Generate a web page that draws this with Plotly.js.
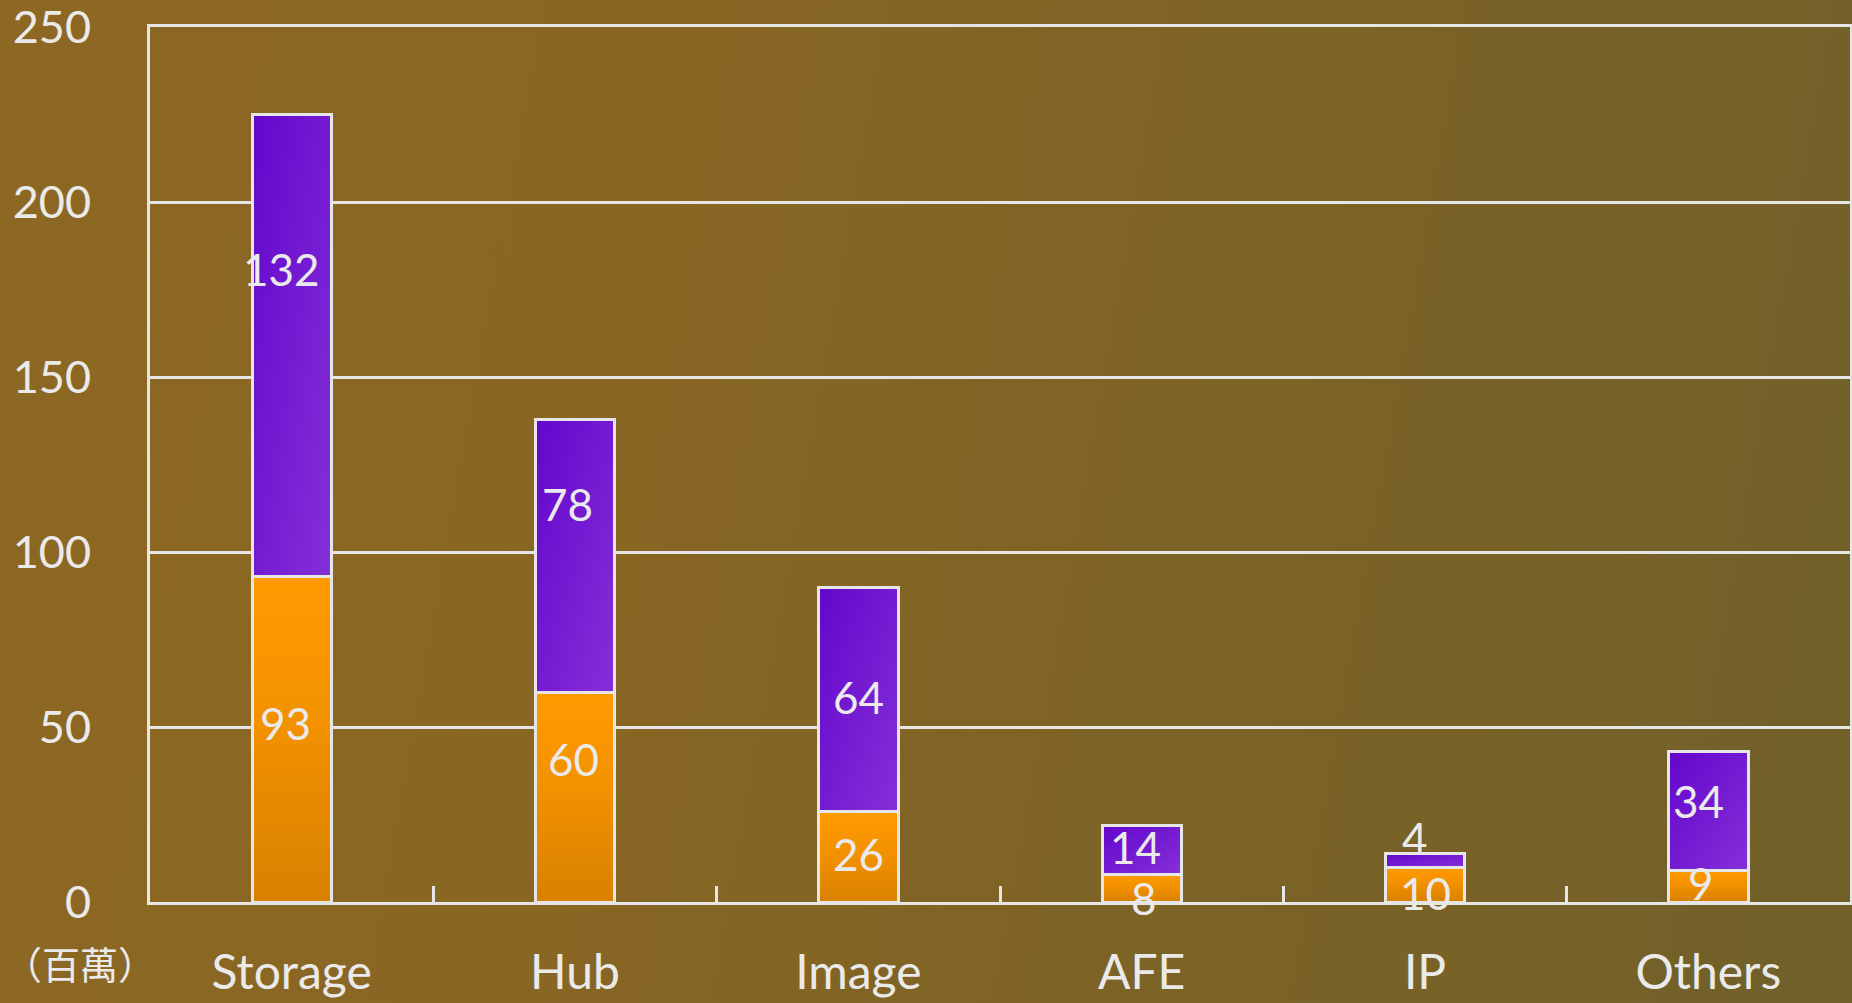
<!DOCTYPE html>
<html>
<head>
<meta charset="utf-8">
<script src="https://cdn.plot.ly/plotly-3.0.1.min.js"></script>
<style>
  html, body { margin: 0; padding: 0; }
  #chart {
    width: 1852px; height: 1003px;
    background: linear-gradient(100deg, #8D6823 0%, #886624 35%, #7C6326 65%, #71602A 100%);
  }
</style>
</head>
<body>
<div id="chart"></div>
<script>
// ---- data ----
const categories = ['Storage', 'Hub', 'Image', 'AFE', 'IP', 'Others'];
const lowerValues = [93, 60, 26, 8, 10, 9];     // orange segment
const upperValues = [132, 78, 64, 14, 4, 34];   // purple segment
const yTickValues = [0, 50, 100, 150, 200, 250];
const unitLabel = '（百萬）';

// ---- label styling (fraction of segment height where the label sits, and x nudges) ----
const lowerLabelFrac = [0.55, 0.68, 0.53, 0.14, 0.26, 0.6];
const upperLabelFrac = [0.666, 0.69, 0.51, 0.55, 2.1, 0.585];
const lowerLabelShift = [-6, -2, 0, 2, 0, -7];
const upperLabelShift = [-10, -8, 0, -6, -10, -10];

const textColor = '#EAEAEA';
const lineColor = '#E6E6E6';

const traces = [
  {
    type: 'bar', x: categories, y: lowerValues, name: 'lower',
    marker: { color: '#F29000', line: { color: lineColor, width: 3 } },
    hoverinfo: 'skip'
  },
  {
    type: 'bar', x: categories, y: upperValues, name: 'upper',
    marker: { color: '#7420D0', line: { color: lineColor, width: 3 } },
    hoverinfo: 'skip'
  }
];

const annotations = [];
categories.forEach((c, i) => {
  annotations.push({
    x: c, y: lowerValues[i] * lowerLabelFrac[i], xref: 'x', yref: 'y',
    text: String(lowerValues[i]), showarrow: false, xshift: lowerLabelShift[i],
    yanchor: 'middle', font: { family: 'Lato, sans-serif', size: 44, color: textColor }
  });
  annotations.push({
    x: c, y: lowerValues[i] + upperValues[i] * upperLabelFrac[i], xref: 'x', yref: 'y',
    text: String(upperValues[i]), showarrow: false, xshift: upperLabelShift[i],
    yanchor: 'middle', font: { family: 'Lato, sans-serif', size: 44, color: textColor }
  });
});
annotations.push({
  xref: 'paper', yref: 'paper', x: -0.087, y: -0.069, xanchor: 'left', yanchor: 'middle',
  text: unitLabel, showarrow: false,
  font: { family: '"Noto Sans CJK TC", sans-serif', size: 38, color: textColor }
});

const layout = {
  width: 1852, height: 1003,
  margin: { l: 150, r: 2, t: 27, b: 101 },
  paper_bgcolor: 'rgba(0,0,0,0)',
  plot_bgcolor: 'rgba(0,0,0,0)',
  barmode: 'stack',
  bargap: 0.72,
  showlegend: false,
  hovermode: false,
  font: { family: 'Lato, sans-serif', color: textColor },
  xaxis: {
    type: 'category',
    showline: true, linecolor: lineColor, linewidth: 3, mirror: true,
    ticks: 'inside', tickson: 'boundaries', ticklen: 16, tickwidth: 3, tickcolor: lineColor,
    showgrid: false,
    tickfont: { family: 'Lato, sans-serif', size: 48, color: textColor },
    ticklabelstandoff: 26,
    ticklabeloverflow: 'allow',
    fixedrange: true
  },
  yaxis: {
    range: [0, 250],
    tickvals: yTickValues,
    showline: true, linecolor: lineColor, linewidth: 3, mirror: true,
    showgrid: true, gridcolor: lineColor, gridwidth: 3,
    zeroline: false,
    ticks: '',
    tickfont: { family: 'Lato, sans-serif', size: 45, color: textColor },
    ticklabelstandoff: 47,
    ticklabeloverflow: 'allow',
    fixedrange: true
  },
  annotations: annotations
};

Plotly.newPlot('chart', traces, layout, { displayModeBar: false, staticPlot: true }).then(gd => {
  const svgNS = 'http://www.w3.org/2000/svg';
  const svg = gd.querySelector('.main-svg');
  let defs = svg.querySelector('defs');
  if (!defs) { defs = document.createElementNS(svgNS, 'defs'); svg.insertBefore(defs, svg.firstChild); }
  function grad(id, x1, y1, x2, y2, stops) {
    const g = document.createElementNS(svgNS, 'linearGradient');
    g.setAttribute('id', id);
    g.setAttribute('x1', x1); g.setAttribute('y1', y1);
    g.setAttribute('x2', x2); g.setAttribute('y2', y2);
    stops.forEach(([o, c]) => {
      const s = document.createElementNS(svgNS, 'stop');
      s.setAttribute('offset', o); s.setAttribute('stop-color', c);
      g.appendChild(s);
    });
    defs.appendChild(g);
  }
  grad('gOrange', '0', '0', '0', '1', [['0', '#FF9B00'], ['0.45', '#F39100'], ['1', '#D88100']]);
  grad('gPurple', '0', '0', '1', '1', [['0', '#6406CC'], ['1', '#8430D8']]);
  const traceGroups = gd.querySelectorAll('.barlayer .trace');
  const ids = ['gOrange', 'gPurple'];
  traceGroups.forEach((t, i) => {
    t.querySelectorAll('.point path').forEach(p => { p.style.fill = 'url(#' + ids[i] + ')'; });
  });
});
</script>
</body>
</html>
